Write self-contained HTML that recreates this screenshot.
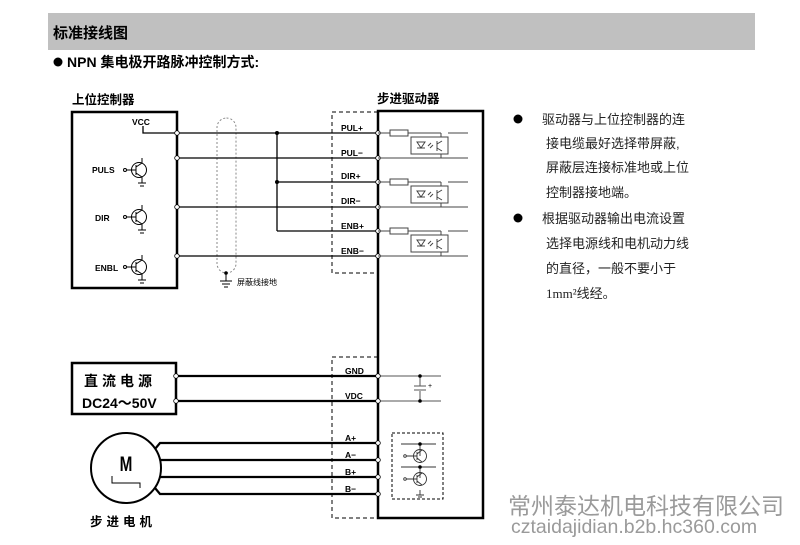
<!DOCTYPE html>
<html><head><meta charset="utf-8"><style>
body{margin:0;background:#fff;width:800px;height:540px;overflow:hidden}
text{font-family:"Liberation Sans","Noto Sans CJK SC",sans-serif}
</style></head><body>
<svg width="800" height="540" viewBox="0 0 800 540" xmlns="http://www.w3.org/2000/svg">
<rect x="48" y="13" width="707" height="37" fill="#c0c0c0"/>
<text x="53" y="38" font-size="15" font-weight="bold" fill="#000">标准接线图</text>
<circle cx="58" cy="62" r="4.5" fill="#000"/>
<text x="67" y="67" font-size="14" font-weight="bold">NPN 集电极开路脉冲控制方式:</text>

<g font-weight="bold">
<text x="72" y="104" font-size="12.5">上位控制器</text>
<text x="377" y="103" font-size="12.5">步进驱动器</text>
</g>
<rect x="72" y="112" width="105" height="176" fill="none" stroke="#000" stroke-width="2.5"/>
<rect x="378" y="111" width="105" height="407" fill="none" stroke="#000" stroke-width="2.5"/>
<path d="M378 112H332V273H378" fill="none" stroke="#000" stroke-dasharray="4,3"/>
<path d="M378 357H332V518H378" fill="none" stroke="#000" stroke-dasharray="4,3"/>
<rect x="217" y="118" width="19" height="155" rx="9.5" fill="none" stroke="#888" stroke-dasharray="2,2"/>
<path d="M226 273V281M220 281H232M222 284H230M224 287H228" stroke="#000"/>
<circle cx="226" cy="273" r="1.8"/>
<text x="237" y="285" font-size="8">屏蔽线接地</text>

<g stroke="#000" stroke-width="1.3" fill="none">
<path d="M177 133H378M177 158H378M277 182H378M177 207H378M277 231H378M177 256H378M277 133V231"/>
<path d="M143 126V133H177"/>
</g>
<circle cx="277" cy="133" r="2"/><circle cx="277" cy="182" r="2"/>
<g fill="#fff" stroke="#000" stroke-width="0.8">
<circle cx="177" cy="133" r="2.3"/><circle cx="177" cy="158" r="2.3"/><circle cx="177" cy="207" r="2.3"/><circle cx="177" cy="256" r="2.3"/>
<circle cx="378" cy="133" r="2.3"/><circle cx="378" cy="158" r="2.3"/><circle cx="378" cy="182" r="2.3"/><circle cx="378" cy="207" r="2.3"/><circle cx="378" cy="231" r="2.3"/><circle cx="378" cy="256" r="2.3"/>
</g>
<g font-size="8.5" font-weight="bold">
<text x="132" y="125">VCC</text>
<text x="92" y="173">PULS</text>
<text x="95" y="221">DIR</text>
<text x="95" y="271">ENBL</text>
<text x="341" y="131">PUL+</text>
<text x="341" y="156">PUL−</text>
<text x="341" y="179">DIR+</text>
<text x="341" y="204">DIR−</text>
<text x="341" y="229">ENB+</text>
<text x="341" y="254">ENB−</text>
<text x="345" y="374">GND</text>
<text x="345" y="399">VDC</text>
<text x="345" y="441">A+</text>
<text x="345" y="458">A−</text>
<text x="345" y="475">B+</text>
<text x="345" y="492">B−</text>
</g>
<g stroke="#000" fill="none" stroke-width="1">
<g><circle cx="139" cy="170" r="7.5"/><circle cx="125" cy="170" r="1.5"/><path d="M126.5 170H136M136 165V175M136 167L142 163V158M136 173L142 177V183M138 183H146M140 186H144"/></g>
<g transform="translate(0,47)"><circle cx="139" cy="170" r="7.5"/><circle cx="125" cy="170" r="1.5"/><path d="M126.5 170H136M136 165V175M136 167L142 163V158M136 173L142 177V183M138 183H146M140 186H144"/></g>
<g transform="translate(0,97)"><circle cx="139" cy="170" r="7.5"/><circle cx="125" cy="170" r="1.5"/><path d="M126.5 170H136M136 165V175M136 167L142 163V158M136 173L142 177V183M138 183H146M140 186H144"/></g>
</g>
<g stroke="#444" fill="none" stroke-width="1">
<g><path d="M378 133H390M408 133H441M378 158H468M441 133V137M441 154V158M448 133H468"/><rect x="390" y="130" width="18" height="6" fill="#fff"/><rect x="411" y="137" width="37" height="17"/><path d="M417 142H425L421 148ZM417 148H425M428 146l3-3M430 148l3-3M437 141V151M437 144L442 141M437 148L442 151"/></g>
<g transform="translate(0,49)"><path d="M378 133H390M408 133H441M378 158H468M441 133V137M441 154V158M448 133H468"/><rect x="390" y="130" width="18" height="6" fill="#fff"/><rect x="411" y="137" width="37" height="17"/><path d="M417 142H425L421 148ZM417 148H425M428 146l3-3M430 148l3-3M437 141V151M437 144L442 141M437 148L442 151"/></g>
<g transform="translate(0,98)"><path d="M378 133H390M408 133H441M378 158H468M441 133V137M441 154V158M448 133H468"/><rect x="390" y="130" width="18" height="6" fill="#fff"/><rect x="411" y="137" width="37" height="17"/><path d="M417 142H425L421 148ZM417 148H425M428 146l3-3M430 148l3-3M437 141V151M437 144L442 141M437 148L442 151"/></g>
</g>

<rect x="72" y="363" width="104" height="51" fill="none" stroke="#000" stroke-width="2.5"/>
<text x="84" y="386" font-size="14" font-weight="bold" letter-spacing="4">直流电源</text>
<text x="82" y="408" font-size="14" font-weight="bold">DC24～50V</text>
<g stroke="#000" stroke-width="2.2"><path d="M176 376H378M176 401H378"/></g>
<g stroke="#555" fill="none"><path d="M378 376H441M378 401H441M420 376V386M420 391V401M414 386H426M414 390H426"/></g>
<circle cx="420" cy="376" r="1.8"/><circle cx="420" cy="401" r="1.8"/>
<text x="428" y="388" font-size="7">+</text>
<g fill="#fff" stroke="#000" stroke-width="0.8"><circle cx="176" cy="376" r="2.3"/><circle cx="176" cy="401" r="2.3"/><circle cx="378" cy="376" r="2.3"/><circle cx="378" cy="401" r="2.3"/></g>

<circle cx="126" cy="468" r="35" fill="none" stroke="#000" stroke-width="2"/>
<text x="126" y="471" font-size="18" font-weight="bold" text-anchor="middle" transform="translate(126 471) scale(0.85 1.2) translate(-126 -471)">M</text>
<path d="M112 476V483H140V488" fill="none" stroke="#000"/>
<g stroke="#000" stroke-width="2.2" fill="none"><path d="M155 449L160 443H378M160 460H378M160 477H378M155 488L160 494H378"/></g>
<g fill="#fff" stroke="#000" stroke-width="0.8"><circle cx="378" cy="443" r="2.3"/><circle cx="378" cy="460" r="2.3"/><circle cx="378" cy="477" r="2.3"/><circle cx="378" cy="494" r="2.3"/></g>
<text x="90" y="526" font-size="12.5" font-weight="bold" letter-spacing="4">步进电机</text>
<rect x="392" y="433" width="51" height="66" fill="none" stroke="#000" stroke-dasharray="3,2"/>
<g stroke="#333" fill="none" stroke-width="0.9">
<path d="M401 444H436M401 467H436M420 444V456M420 467V478M420 490V495M416 495H424M418 497H422"/>
<circle cx="420" cy="456" r="6.5"/><circle cx="420" cy="479" r="6.5"/>
<path d="M406 456H417M417 452V460M417 454L422 450M417 458L422 462M406 479H417M417 475V483M417 477L422 473M417 481L422 485"/>
<circle cx="405" cy="456" r="1.3"/><circle cx="405" cy="479" r="1.3"/>
</g>
<circle cx="420" cy="444" r="1.8"/><circle cx="420" cy="467" r="1.8"/>

<g font-size="13" fill="#222">
<circle cx="518" cy="119" r="4.5" fill="#000"/>
<text x="542" y="124">驱动器与上位控制器的连</text>
<text x="546" y="148">接电缆最好选择带屏蔽,</text>
<text x="546" y="172">屏蔽层连接标准地或上位</text>
<text x="546" y="197">控制器接地端。</text>
<circle cx="518" cy="218" r="4.5" fill="#000"/>
<text x="542" y="223">根据驱动器输出电流设置</text>
<text x="546" y="248">选择电源线和电机动力线</text>
<text x="546" y="273">的直径，一般不要小于</text>
<text x="546" y="298"><tspan font-family="Liberation Serif">1mm²</tspan>线经。</text>
</g>
<text x="508" y="514" font-size="23" fill="#9a9a9a">常州泰达机电科技有限公司</text>
<text x="511" y="533" font-size="19.5" fill="#9a9a9a">cztaidajidian.b2b.hc360.com</text>
</svg>
</body></html>
